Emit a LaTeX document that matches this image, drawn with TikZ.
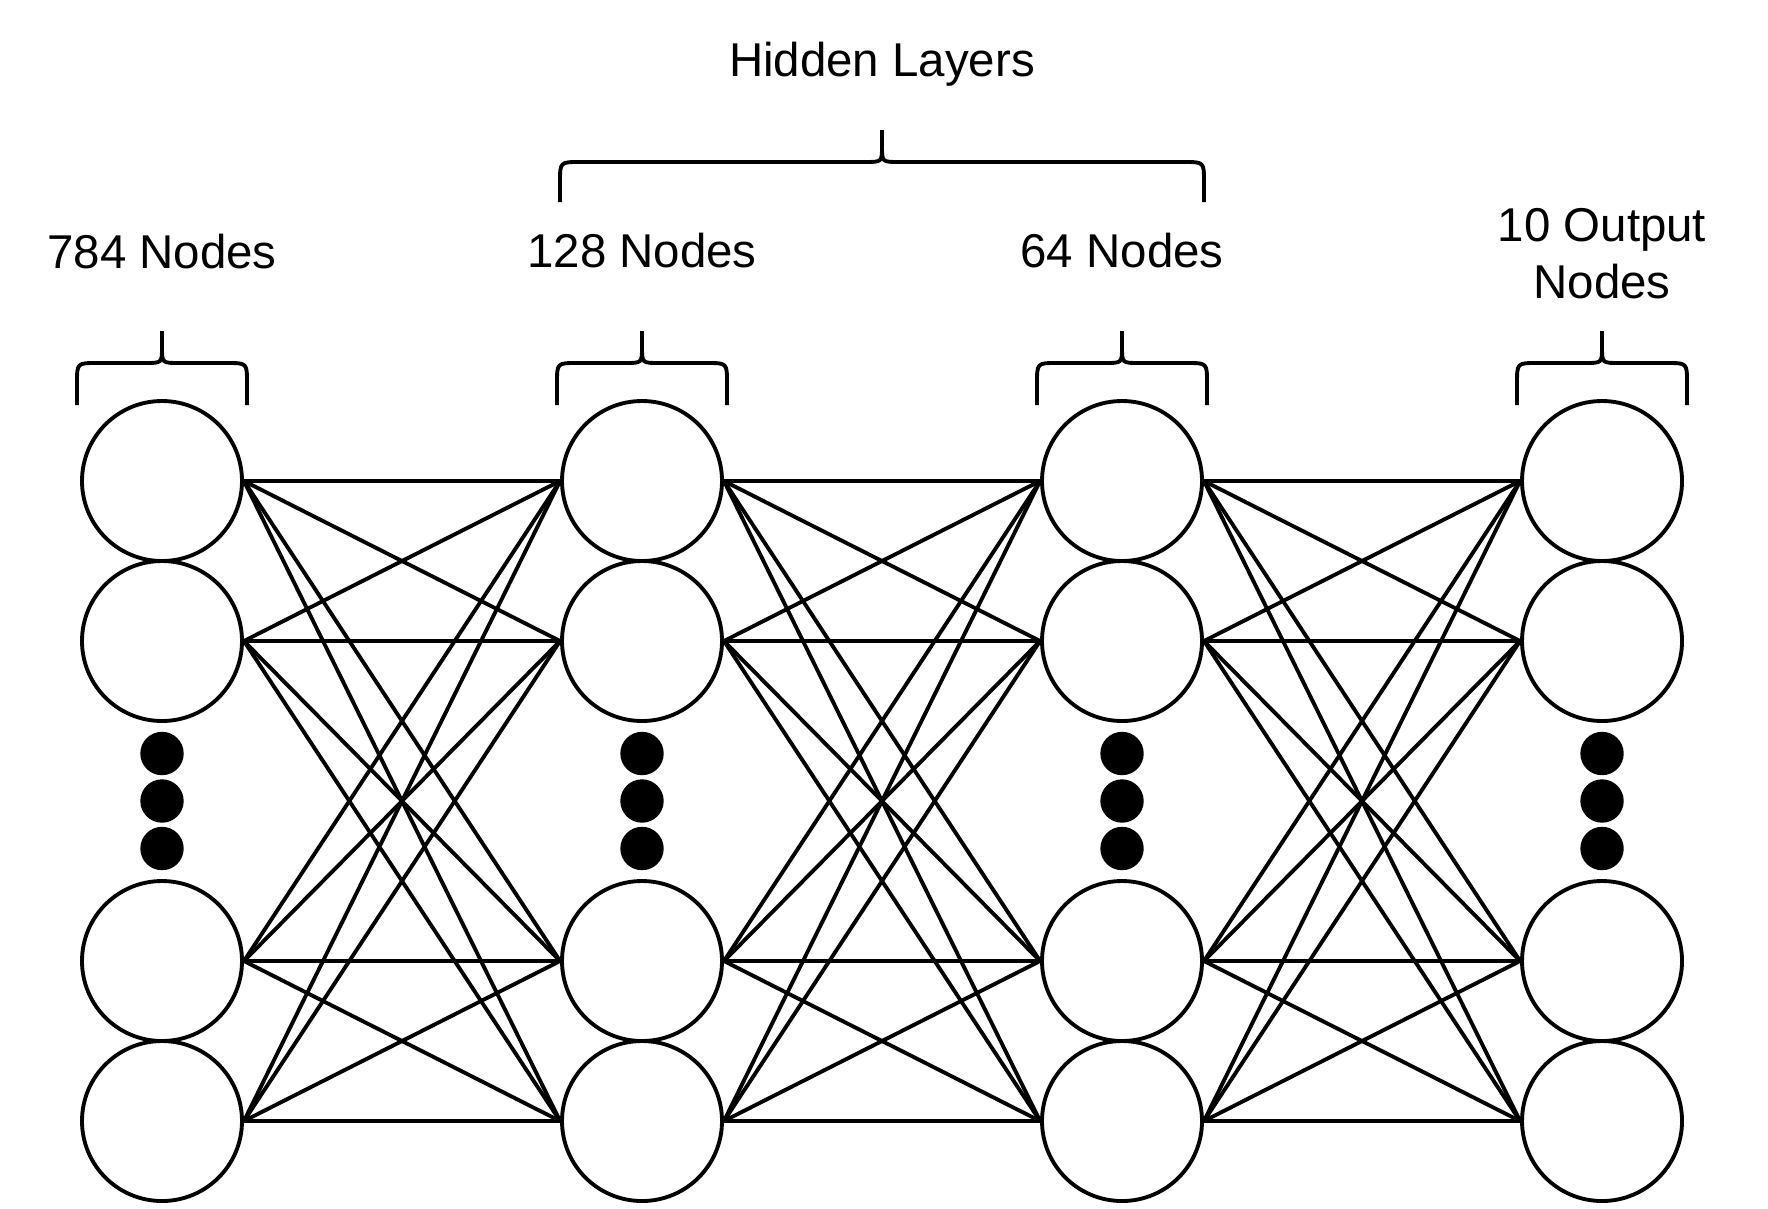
\documentclass[tikz,border=0pt]{standalone}
\usepackage{fontspec}
\setmainfont{Liberation Sans}
\usepackage{tikz}
\usetikzlibrary{calc,positioning}
\newdimen\rdim
\newdimen\ddim
\rdim=0.8cm
\ddim=0.217cm
\tikzstyle{neuron}=[
  circle,
  draw=black,
  fill=white,
  inner sep=0pt,
  line width=1.1pt,
  minimum size=2\rdim,
]
\tikzstyle{dot}=[
  circle,
  fill=black,
  inner sep=0pt,
  minimum size=2\ddim,
]
\tikzstyle{link}=[
  draw=black,
  line width=1.1pt,
]
\tikzstyle{brace}=[
  draw=black,
  line width=1.1pt,
  line join=round,
]
\tikzstyle{caption}=[
  font={\fontsize{13.5}{16.2}\selectfont},
  inner sep=0pt,
  align=center,
]
\tikzset{
  node distance=2\rdim,
}
% curly bracket: centre x, half width, height of the bar, drop of the ends
\newcommand{\layerbrace}[4]{%
  \draw [brace] (#1-#2,#3-#4) -- (#1-#2,#3-0.2)
    .. controls (#1-#2,#3) .. (#1-#2+0.2,#3) -- (#1-0.17,#3)
    .. controls (#1,#3) .. (#1,#3+0.16) -- (#1,#3+0.32);
  \draw [brace] (#1+#2,#3-#4) -- (#1+#2,#3-0.2)
    .. controls (#1+#2,#3) .. (#1+#2-0.2,#3) -- (#1+0.17,#3)
    .. controls (#1,#3) .. (#1,#3+0.16);
}
\begin{document}
\begin{tikzpicture}
  \useasboundingbox (0,0) rectangle (17.68,12.08);
  \foreach \name/\x in {input/1.62, hiddenA/6.42, hiddenB/11.22, output/16.02} {
    \node (\name1) [neuron] at (\x,7.27) {};
    \node (\name2) [neuron, below of=\name1] {};
    \node (\name3) [neuron, below of=\name2, node distance=4\rdim] {};
    \node (\name4) [neuron, below of=\name3] {};
    \node (\name dotb) [dot] at ($(\name2)!0.5!(\name3)$) {};
    \node (\name dota) [dot, above of=\name dotb, node distance=0.475cm] {};
    \node (\name dotc) [dot, below of=\name dotb, node distance=0.475cm] {};
    \layerbrace{\x}{0.85}{8.45}{0.42}
  }
  \foreach \a/\b in {input/hiddenA, hiddenA/hiddenB, hiddenB/output}
    \foreach \i in {1,...,4}
      \foreach \j in {1,...,4}
        \draw [link] (\a\i.east) -- (\b\j.west);
  \layerbrace{8.82}{3.22}{10.46}{0.40}
  \node (inputlabel) [caption, anchor=base] at (1.62,9.40) {784 Nodes};
  \node (hiddenAlabel) [caption, anchor=base] at (6.42,9.41) {128 Nodes};
  \node (hiddenBlabel) [caption, anchor=base] at (11.22,9.41) {64 Nodes};
  \node (outputlabel) [caption, anchor=base] at (16.02,9.10) {10 Output\\Nodes};
  \node (hiddenlabel) [caption, anchor=base] at (8.82,11.32) {Hidden Layers};
\end{tikzpicture}
\end{document}
